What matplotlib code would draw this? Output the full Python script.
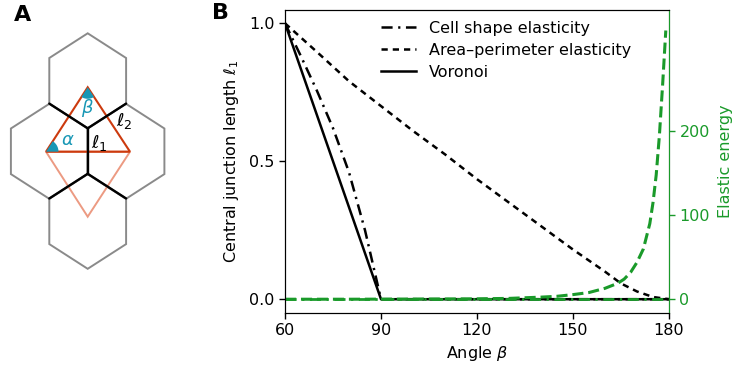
import numpy as np
import matplotlib
matplotlib.use("Agg")
import matplotlib.pyplot as plt
from matplotlib.patches import Polygon

plt.rcParams['font.family'] = ['DejaVu Sans']
plt.rcParams['mathtext.fontset'] = 'dejavusans'
plt.rcParams['lines.scale_dashes'] = False

# ---------------- data (panel B) ----------------
angle_cell = [60, 65, 70, 75, 80, 85, 90, 120, 150, 180]
l1_cell = [1.0, 0.88, 0.755, 0.62, 0.46, 0.25, 0.0, 0.0, 0.0, 0.0]

angle_ap = [60, 70, 80, 90, 100, 110, 120, 130, 140, 150, 160, 165, 170, 175, 180]
l1_ap = [1.0, 0.896, 0.79, 0.70, 0.61, 0.525, 0.435, 0.35, 0.265, 0.18, 0.10, 0.057, 0.028, 0.008, 0.0]

angle_vor = [60, 90, 120, 150, 180]
l1_vor = [1.0, 0.0, 0.0, 0.0, 0.0]

angle_e_cell = [60, 180]
energy_cell = [0, 0]

angle_e_ap = [60, 80, 100, 120, 130, 140, 145, 150, 155, 160, 164, 166, 168, 170, 172, 174,
              175, 176, 177, 178, 179]
energy_ap = [0, 0, 0.2, 0.5, 1, 2.5, 3.5, 5.5, 8, 13, 19, 24, 32, 44, 60, 90,
             115, 148, 195, 255, 320]

xticks = [60, 90, 120, 150, 180]
yticks_left = [0.0, 0.5, 1.0]
yticks_right = [0, 100, 200]

legend_labels = ["Cell shape elasticity", "Area\u2013perimeter elasticity", "Voronoi"]

# ---------------- data (panel A, pixel coords of the schematic) ----------------
hex_centers = [(87.7, 80.8), (49.3, 151.3), (126.0, 151.3), (87.7, 221.3)]
hex_half_w = 38.4
hex_tip = 47.5
hex_side = 22.8
upper_tri = [(87.7, 87.3), (46.0, 151.7), (130.0, 151.7)]
lower_tri = [(46.0, 151.7), (130.0, 151.7), (87.7, 216.7)]

GREEN = '#1a9a2a'
RED = '#cc3a0e'
SALMON = '#ec9a82'
TEAL = '#1897b5'
GRAY = '#8a8a8a'

W, H = 736, 372
fig = plt.figure(figsize=(W / 100, H / 100), dpi=100)

# ---------------- panel A ----------------
axA = fig.add_axes([0, 0, 1, 1])
axA.set_xlim(0, W)
axA.set_ylim(H, 0)
axA.axis('off')

def hex_vertices(cx, cy):
    # order: top, upper-right, lower-right, bottom, lower-left, upper-left
    return [(cx, cy - hex_tip), (cx + hex_half_w, cy - hex_side), (cx + hex_half_w, cy + hex_side),
            (cx, cy + hex_tip), (cx - hex_half_w, cy + hex_side), (cx - hex_half_w, cy - hex_side)]

for cx, cy in hex_centers:
    v = hex_vertices(cx, cy)
    axA.add_patch(Polygon(v, closed=True, fill=False, edgecolor=GRAY, lw=1.4, joinstyle='miter'))

# shared (black) junctions
top = hex_vertices(*hex_centers[0])
bot = hex_vertices(*hex_centers[3])
black_edges = [(top[4], top[3]), (top[3], top[2]), (top[3], bot[0]), (bot[0], bot[5]), (bot[0], bot[1])]
for p, q in black_edges:
    axA.plot([p[0], q[0]], [p[1], q[1]], color='black', lw=1.7, solid_capstyle='round')

axA.add_patch(Polygon(lower_tri, closed=True, fill=False, edgecolor=SALMON, lw=1.4))
axA.add_patch(Polygon(upper_tri, closed=True, fill=False, edgecolor=RED, lw=1.5))

def wedge(vertex, p1, p2, r):
    vx, vy = vertex
    a1 = np.arctan2(p1[1] - vy, p1[0] - vx)
    a2 = np.arctan2(p2[1] - vy, p2[0] - vx)
    if a2 < a1:
        a1, a2 = a2, a1
    if a2 - a1 > np.pi:
        a1, a2 = a2, a1 + 2 * np.pi
    t = np.linspace(a1, a2, 30)
    pts = [(vx, vy)] + [(vx + r * np.cos(a), vy + r * np.sin(a)) for a in t]
    return Polygon(pts, closed=True, facecolor=TEAL, edgecolor='none')

axA.add_patch(wedge(upper_tri[1], upper_tri[0], upper_tri[2], 12.5))
axA.add_patch(wedge(upper_tri[0], upper_tri[1], upper_tri[2], 11.5))

axA.text(68, 140, r'$\alpha$', color=TEAL, fontsize=13, ha='center', va='center')
axA.text(87.5, 108, r'$\beta$', color=TEAL, fontsize=13, ha='center', va='center')
axA.text(124, 121, r'$\ell_2$', color='black', fontsize=13, ha='center', va='center')
axA.text(99, 143, r'$\ell_1$', color='black', fontsize=13, ha='center', va='center')
axA.text(23, 15, 'A', fontsize=16, fontweight='bold', ha='center', va='center')
axA.text(221, 13, 'B', fontsize=16, fontweight='bold', ha='center', va='center')

# ---------------- panel B ----------------
left, right, bottom, topp = 285 / W, 669 / W, 1 - 313 / H, 1 - 9.5 / H
ax = fig.add_axes([left, bottom, right - left, topp - bottom])
FS = 11.5
lw = 1.8
ls_dashdot = (0, (8, 4, 1.6, 4))
ls_dashed = (0, (4.5, 3.6))

ax.plot(angle_cell, l1_cell, color='black', lw=lw, linestyle=ls_dashdot, label=legend_labels[0])
ax.plot(angle_ap, l1_ap, color='black', lw=lw, linestyle=ls_dashed, label=legend_labels[1])
ax.plot(angle_vor, l1_vor, color='black', lw=lw, linestyle='-', label=legend_labels[2])

ax.set_xlim(60, 180)
ax.set_ylim(-0.05, 1.05)
ax.set_xticks(xticks)
ax.set_yticks(yticks_left)
ax.set_yticklabels(['0.0', '0.5', '1.0'])
ax.tick_params(labelsize=FS, length=4, width=1)
ax.set_xlabel(r'Angle $\beta$', fontsize=FS)
ax.set_ylabel(r'Central junction length $\ell_1$', fontsize=FS, labelpad=6)
ax.legend(loc='upper right', frameon=False, fontsize=FS, handlelength=2.2,
          borderaxespad=0.3, labelspacing=0.45, bbox_to_anchor=(0.93, 1.0))

ax2 = ax.twinx()
ax2.plot(angle_e_cell, energy_cell, color=GREEN, lw=2.0, linestyle=ls_dashdot)
ax2.plot(angle_e_ap, energy_ap, color=GREEN, lw=2.2, linestyle=(0, (8, 3.5)))
ax2.set_ylim(-16.4, 345)
ax2.set_yticks(yticks_right)
ax2.tick_params(axis='y', colors=GREEN, labelsize=FS, length=4, width=1)
ax2.spines['right'].set_color(GREEN)
ax2.set_ylabel('Elastic energy', color=GREEN, fontsize=FS, labelpad=6)

fig.savefig('out.png', dpi=100)
